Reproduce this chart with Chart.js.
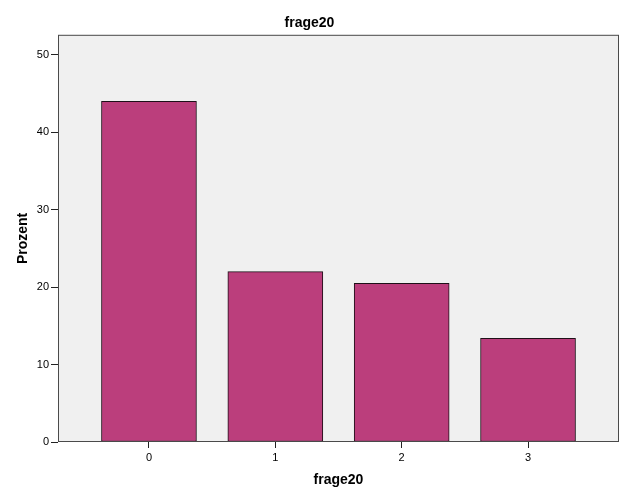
<!DOCTYPE html>
<html>
<head>
<meta charset="utf-8">
<script src="https://cdn.jsdelivr.net/npm/chart.js@4/dist/chart.umd.min.js"></script>
<style>
html,body{margin:0;padding:0;background:#fff;}
#wrap{width:626px;height:501px;}
</style>
</head>
<body>
<div id="wrap"><canvas id="c" width="626" height="501"></canvas></div>
<script>
const categories = [0, 1, 2, 3];
const percentValues = [44.0, 22.0, 20.5, 13.4];
const yTicks = [0, 10, 20, 30, 40, 50];

const frame = {
  id: 'frame',
  beforeDraw(chart) {
    const {ctx, chartArea: a} = chart;
    ctx.save();
    ctx.fillStyle = '#f0f0f0';
    ctx.fillRect(a.left, a.top, a.right - a.left, a.bottom - a.top);
    ctx.restore();
  },
  afterDraw(chart) {
    const {ctx, chartArea: a} = chart;
    ctx.save();
    ctx.strokeStyle = '#4a4a4a';
    ctx.lineWidth = 1;
    ctx.strokeRect(a.left + 0.5, a.top + 0.5, a.right - a.left - 1, a.bottom - a.top - 1);
    ctx.restore();
  }
};

new Chart(document.getElementById('c'), {
  type: 'bar',
  data: {
    datasets: [{
      data: categories.map((c, i) => ({x: c, y: percentValues[i]})),
      backgroundColor: '#bb3e7c',
      borderColor: '#1e1018',
      borderWidth: 1,
      borderSkipped: false,
      barThickness: 95
    }]
  },
  plugins: [frame],
  options: {
    responsive: false,
    animation: false,
    layout: {padding: {left: 0, right: 7, top: 0, bottom: 8}},
    plugins: {
      legend: {display: false},
      tooltip: {enabled: false},
      title: {
        display: true,
        text: 'frage20',
        color: '#000',
        font: {family: 'Liberation Sans, Arial', size: 14, weight: 'bold'},
        padding: {top: 15, bottom: 3}
      }
    },
    scales: {
      x: {
        type: 'linear',
        offset: false,
        min: -0.72,
        max: 3.72,
        afterBuildTicks(s) { s.ticks = categories.map(v => ({value: v})); },
        afterFit(s) { s.height = 51; },
        ticks: {color: '#000', font: {family: 'Liberation Sans, Arial', size: 11}, padding: 3, maxRotation: 0},
        grid: {display: true, drawOnChartArea: false, tickLength: 6, color: '#222', offset: false},
        border: {display: false},
        title: {display: true, text: 'frage20', color: '#000', font: {family: 'Liberation Sans, Arial', size: 14, weight: 'bold'}, padding: {top: 4, bottom: 4}}
      },
      y: {
        min: 0,
        max: 52.6,
        afterBuildTicks(s) { s.ticks = yTicks.map(v => ({value: v})); },
        afterFit(s) { s.width = 58; },
        ticks: {color: '#000', font: {family: 'Liberation Sans, Arial', size: 11}, padding: 2},
        grid: {display: true, drawOnChartArea: false, tickLength: 7, color: '#222'},
        border: {display: false},
        title: {display: true, text: 'Prozent', color: '#000', font: {family: 'Liberation Sans, Arial', size: 14, weight: 'bold'}, padding: {top: 15, bottom: 4}}
      }
    }
  }
});
</script>
</body>
</html>
